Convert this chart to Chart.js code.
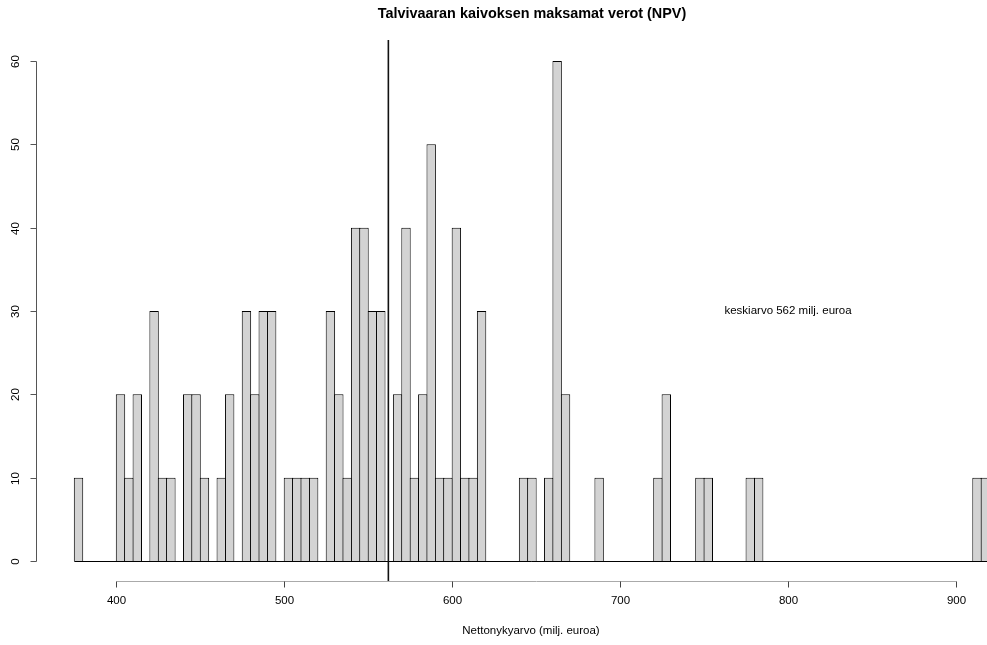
<!DOCTYPE html>
<html>
<head>
<meta charset="utf-8">
<title>Talvivaaran kaivoksen maksamat verot (NPV)</title>
<script src="https://cdn.jsdelivr.net/npm/chart.js@4/dist/chart.umd.min.js"></script>
<style>
  html, body { margin: 0; padding: 0; background: #fff; }
  #wrap { width: 987px; height: 645px; position: relative; }
</style>
</head>
<body>
<div id="wrap"><canvas id="npvChart"></canvas></div>
<script>
// histogram bins (left edge, milj. euroa), width 5
const binStarts = [
  375, 380, 385, 390, 395, 400, 405, 410, 415, 420,
  425, 430, 435, 440, 445, 450, 455, 460, 465, 470,
  475, 480, 485, 490, 495, 500, 505, 510, 515, 520,
  525, 530, 535, 540, 545, 550, 555, 560, 565, 570,
  575, 580, 585, 590, 595, 600, 605, 610, 615, 620,
  625, 630, 635, 640, 645, 650, 655, 660, 665, 670,
  675, 680, 685, 690, 695, 700, 705, 710, 715, 720,
  725, 730, 735, 740, 745, 750, 755, 760, 765, 770,
  775, 780, 785, 790, 795, 800, 805, 810, 815, 820,
  825, 830, 835, 840, 845, 850, 855, 860, 865, 870,
  875, 880, 885, 890, 895, 900, 905, 910, 915
];
const binWidth = 5;

// frequencies per bin
const counts = [
  10, 0, 0, 0, 0, 20, 10, 20, 0, 30,
  10, 10, 0, 20, 20, 10, 0, 10, 20, 0,
  30, 20, 30, 30, 0, 10, 10, 10, 10, 0,
  30, 20, 10, 40, 40, 30, 30, 0, 20, 40,
  10, 20, 50, 10, 10, 40, 10, 10, 30, 0,
  0, 0, 0, 10, 10, 0, 10, 60, 20, 0,
  0, 0, 10, 0, 0, 0, 0, 0, 0, 10,
  20, 0, 0, 0, 10, 10, 0, 0, 0, 0,
  10, 10, 0, 0, 0, 0, 0, 0, 0, 0,
  0, 0, 0, 0, 0, 0, 0, 0, 0, 0,
  0, 0, 0, 0, 0, 0, 0, 10, 10
];

const xTicks = [400, 500, 600, 700, 800, 900];
const yTicks = [0, 10, 20, 30, 40, 50, 60];

const meanValue = 562;
const meanLabel = 'keskiarvo 562 milj. euroa';
const meanLabelAt = { x: 800, y: 30 };

const titleText = 'Talvivaaran kaivoksen maksamat verot (NPV)';
const xTitle = 'Nettonykyarvo (milj. euroa)';

const FONT = '"Liberation Sans", Arial, Helvetica, sans-serif';

// R style axes, mean line and texts
const rStyle = {
  id: 'rStyle',
  afterDatasetsDraw(chart) {
    const { ctx, chartArea, scales: { x, y } } = chart;
    ctx.save();

    // base line of the histogram (zero-height bins)
    const y0 = Math.round(y.getPixelForValue(0)) + 0.5;
    ctx.strokeStyle = '#000';
    ctx.lineWidth = 1;
    ctx.beginPath();
    ctx.moveTo(x.getPixelForValue(binStarts[0]), y0);
    ctx.lineTo(x.getPixelForValue(binStarts[binStarts.length - 1] + binWidth), y0);
    ctx.stroke();

    // mean line
    const mx = x.getPixelForValue(meanValue);
    ctx.strokeStyle = '#111';
    ctx.lineWidth = 1.6;
    ctx.beginPath();
    ctx.moveTo(mx, chartArea.top);
    ctx.lineTo(mx, chartArea.bottom + 1);
    ctx.stroke();
    ctx.restore();
  },
  afterDraw(chart) {
    const { ctx, chartArea, scales: { x, y } } = chart;
    ctx.save();
    ctx.fillStyle = '#000';

    // y axis
    const ax = chartArea.left - 0.5;
    ctx.strokeStyle = '#555';
    ctx.lineWidth = 1;
    ctx.beginPath();
    ctx.moveTo(ax, Math.round(y.getPixelForValue(yTicks[0])) + 0.5);
    ctx.lineTo(ax, Math.round(y.getPixelForValue(yTicks[yTicks.length - 1])) + 0.5);
    ctx.stroke();
    ctx.font = '11.5px ' + FONT;
    ctx.textAlign = 'center';
    ctx.textBaseline = 'middle';
    yTicks.forEach(v => {
      const py = Math.round(y.getPixelForValue(v)) + 0.5;
      ctx.beginPath();
      ctx.moveTo(ax - 6, py);
      ctx.lineTo(ax, py);
      ctx.stroke();
      ctx.save();
      ctx.translate(15.5, py);
      ctx.rotate(-Math.PI / 2);
      ctx.fillText(String(v), 0, 0);
      ctx.restore();
    });

    // x axis
    const ay = chartArea.bottom + 0.5;
    ctx.strokeStyle = '#aaa';
    ctx.beginPath();
    ctx.moveTo(Math.round(x.getPixelForValue(xTicks[0])) + 0.5, ay);
    ctx.lineTo(Math.round(x.getPixelForValue(xTicks[xTicks.length - 1])) + 0.5, ay);
    ctx.stroke();
    ctx.strokeStyle = '#444';
    xTicks.forEach(v => {
      const px = Math.round(x.getPixelForValue(v)) + 0.5;
      ctx.beginPath();
      ctx.moveTo(px, ay);
      ctx.lineTo(px, ay + 6);
      ctx.stroke();
      ctx.fillText(String(v), px, 601);
    });

    // axis title and main title
    ctx.fillText(xTitle, 531, 631);
    ctx.font = 'bold 14.4px ' + FONT;
    ctx.fillText(titleText, 532, 14);

    // mean annotation
    ctx.font = '11.5px ' + FONT;
    ctx.fillText(meanLabel, x.getPixelForValue(meanLabelAt.x), y.getPixelForValue(meanLabelAt.y));
    ctx.restore();
  }
};

document.addEventListener('DOMContentLoaded', () => {
  const ctx = document.getElementById('npvChart').getContext('2d');
  new Chart(ctx, {
    type: 'bar',
    data: {
      datasets: [{
        label: 'Nettonykyarvo',
        data: binStarts.map((b, i) => ({ x: b + binWidth / 2, y: counts[i] })),
        backgroundColor: '#d3d3d3',
        borderColor: '#000',
        borderWidth: 1,
        barPercentage: 1.12,
        categoryPercentage: 1
      }]
    },
    options: {
      responsive: true,
      maintainAspectRatio: false,
      animation: false,
      layout: { padding: { left: 37, right: 0, top: 40, bottom: 64 } },
      scales: {
        x: {
          type: 'linear', min: 352.78, max: 918.46, offset: false,
          display: false, ticks: { stepSize: 100 }
        },
        y: { min: -2.4, max: 62.52, display: false }
      },
      plugins: {
        legend: { display: false },
        tooltip: { enabled: false },
        title: { display: false }
      }
    },
    plugins: [rStyle]
  });
});
</script>
</body>
</html>
